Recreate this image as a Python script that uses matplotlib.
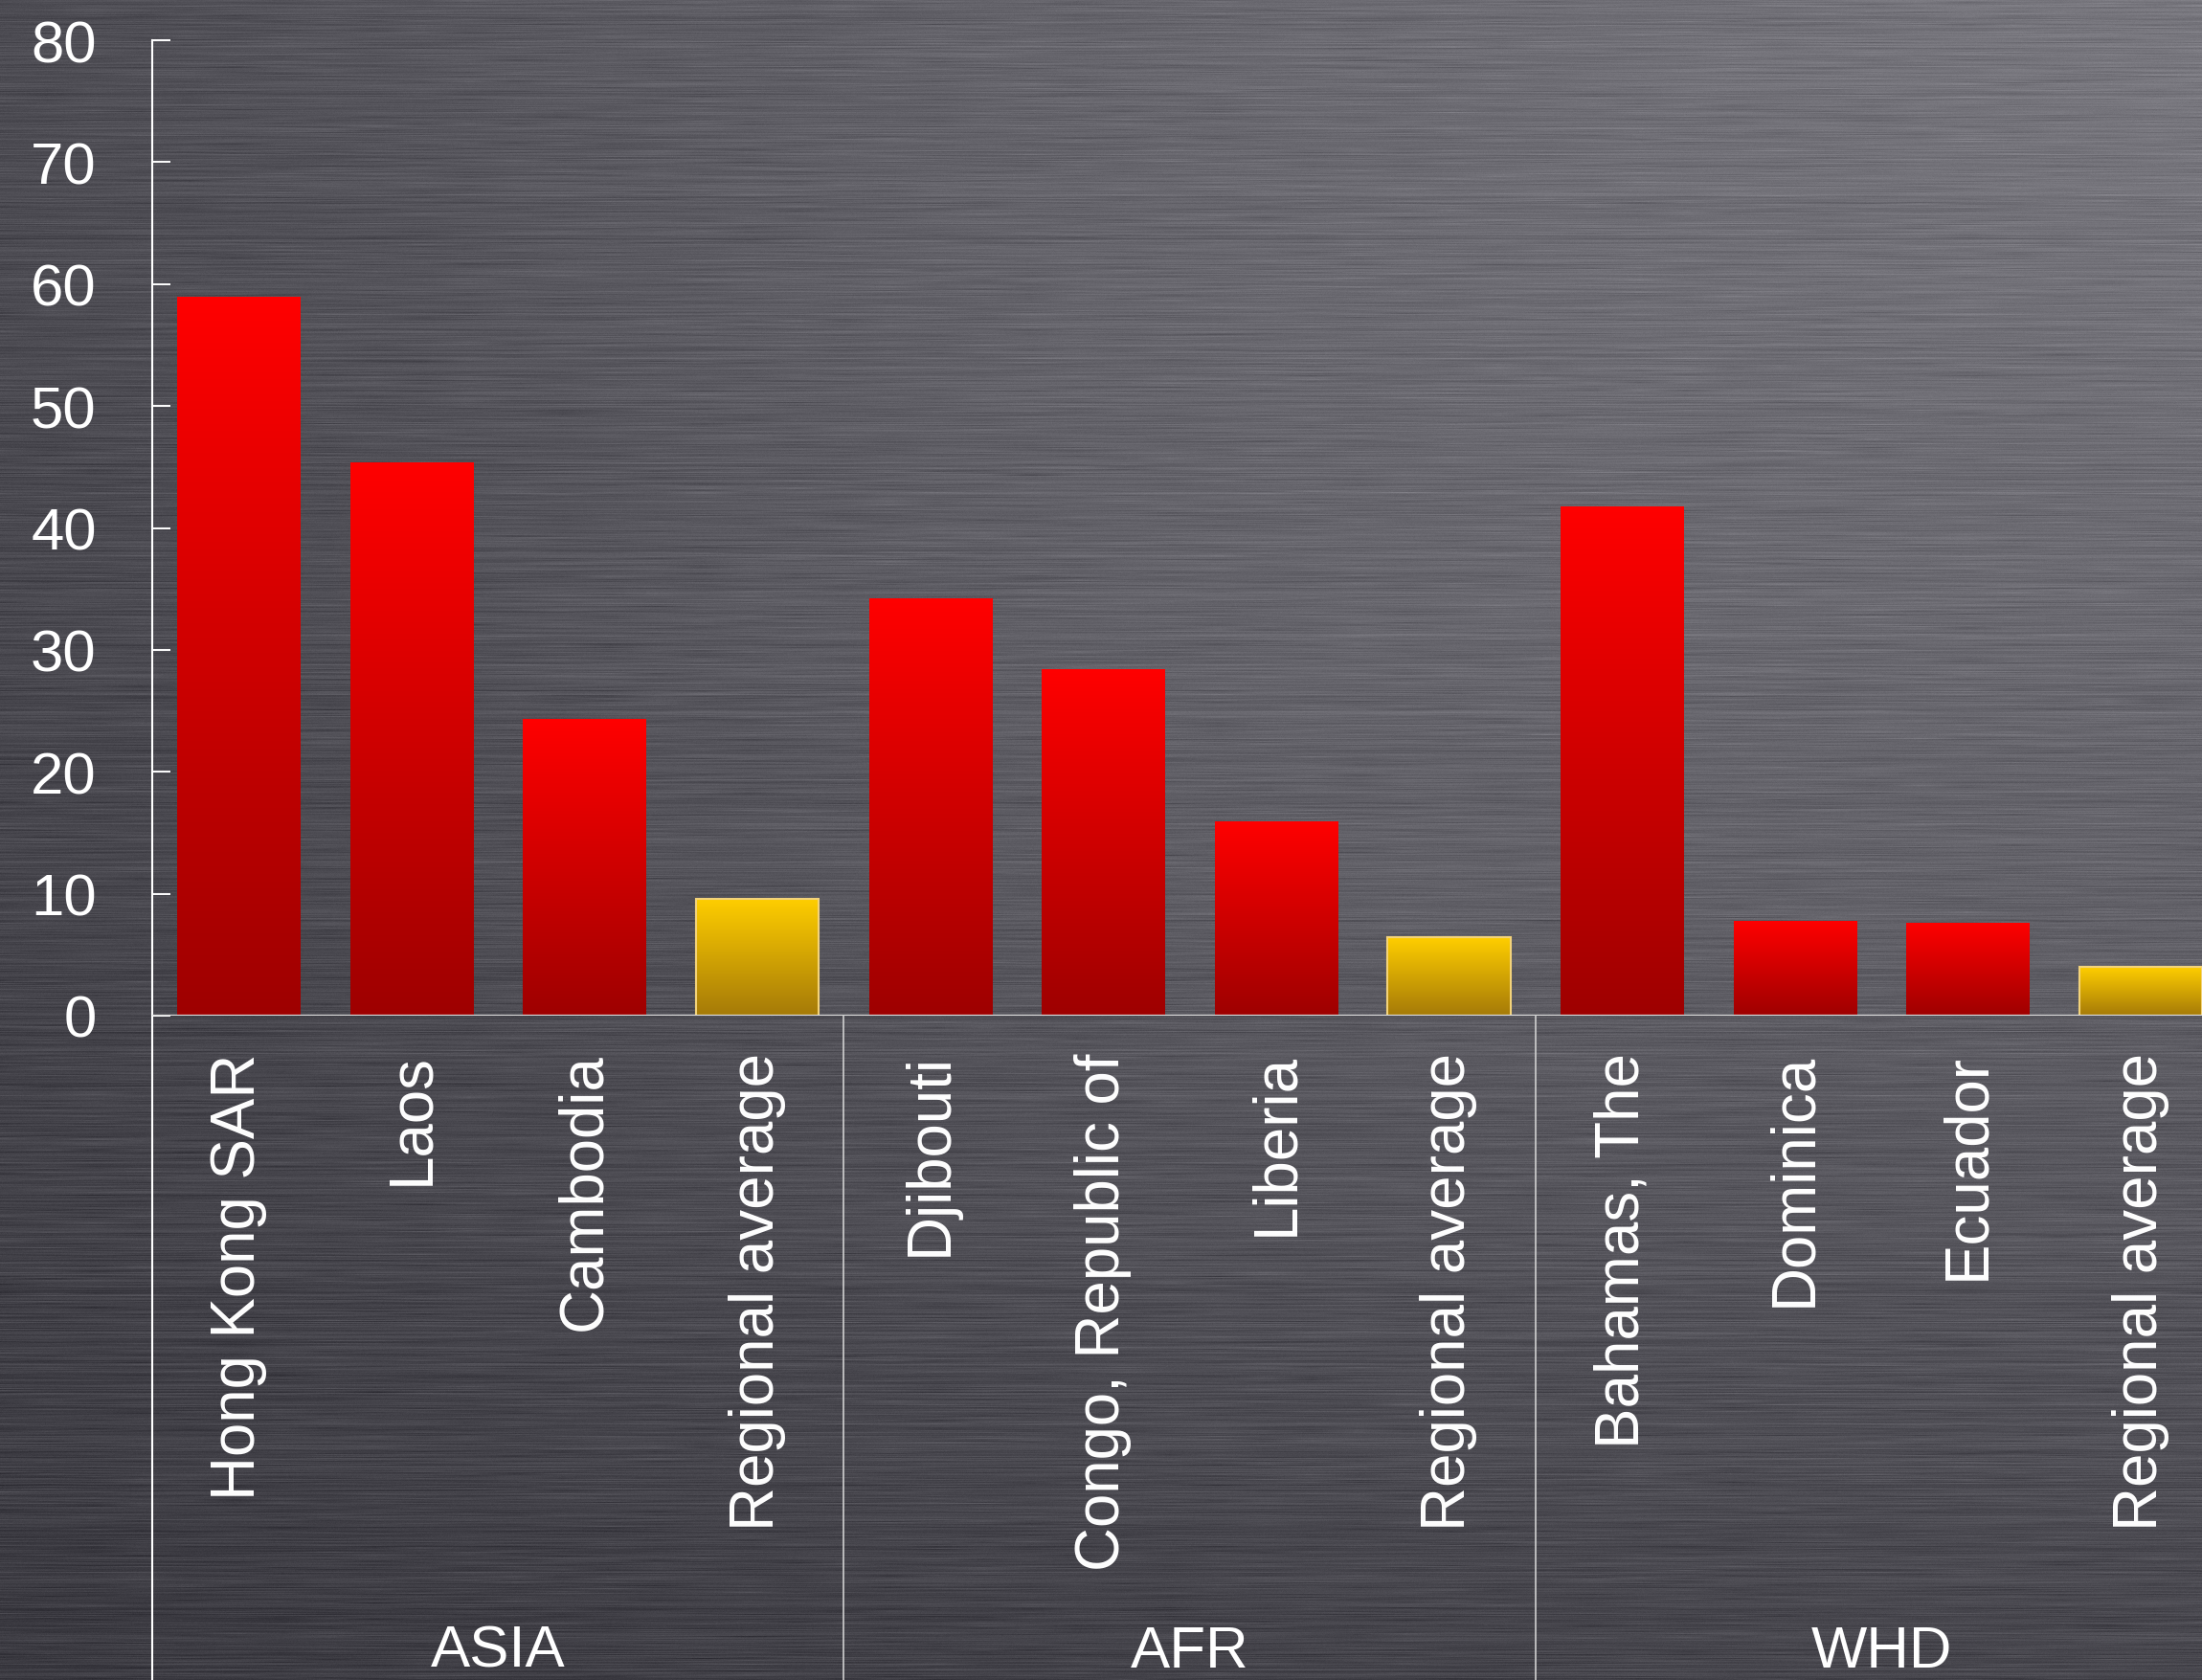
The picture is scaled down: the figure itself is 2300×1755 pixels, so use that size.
import numpy as np
import matplotlib
matplotlib.use('Agg')
import matplotlib.pyplot as plt
from matplotlib.transforms import blended_transform_factory

plt.rcParams['font.family'] = ['Liberation Sans', 'DejaVu Sans']

# data
countries = ['Hong Kong SAR', 'Laos', 'Cambodia', 'Regional average',
             'Djibouti', 'Congo, Republic of', 'Liberia', 'Regional average',
             'Bahamas, The', 'Dominica', 'Ecuador', 'Regional average']
values = [58.9, 45.3, 24.3, 9.6,
          34.2, 28.4, 15.9, 6.4,
          41.7, 7.7, 7.6, 4.0]
is_average = [False, False, False, True,
              False, False, False, True,
              False, False, False, True]
regions = ['ASIA', 'AFR', 'WHD']
region_size = 4
yticks = [0, 10, 20, 30, 40, 50, 60, 70, 80]

W, H = 2300, 1756
fig = plt.figure(figsize=(W / 100, H / 100), dpi=100)

# brushed metal background
yy, xx = np.mgrid[0:H, 0:W].astype(np.float32)
xn = xx / W
up = 1 - yy / H
v = 60 + 12 * xn + 18 * up + 30 * xn * up
v += 12 * np.exp(-((xn - 0.6) ** 2 + (up - 0.6) ** 2) / 0.18)
rng = np.random.default_rng(7)
v += rng.normal(0, 4, size=(H, 1)).astype(np.float32)
coarse = rng.normal(0, 5, size=(H, W // 50 + 2)).astype(np.float32)
xs = np.linspace(0, coarse.shape[1] - 1, W)
i0 = xs.astype(int)
fr = (xs - i0).astype(np.float32)
i1 = np.minimum(i0 + 1, coarse.shape[1] - 1)
v += coarse[:, i0] * (1 - fr) + coarse[:, i1] * fr
v += rng.normal(0, 1.5, size=(H, W)).astype(np.float32)
bg = np.clip(np.stack([v, v - 1, v + 6], axis=-1) / 255.0, 0, 1)

bg_ax = fig.add_axes([0, 0, 1, 1], zorder=0)
bg_ax.imshow(bg, aspect='auto', interpolation='nearest')
bg_ax.axis('off')

# main axes
left = 159 / W
bottom = (H - 1062) / H
height = (1062 - 43) / H
width = 12 * 180.6 / W
ax = fig.add_axes([left, bottom, width, height], zorder=1)
ax.set_facecolor('none')

x = np.arange(len(countries))
bar_w = 0.71
bars = ax.bar(x, values, width=bar_w, color='none', edgecolor='none', zorder=3)

def gradient(top, bot, n=256):
    t = np.linspace(0, 1, n)[:, None]
    top = np.array(top) / 255.0
    bot = np.array(bot) / 255.0
    return (top * (1 - t) + bot * t)[:, None, :]

red_grad = gradient((255, 0, 0), (158, 0, 0))
gold_grad = gradient((255, 206, 0), (165, 122, 8))

for b, avg in zip(bars, is_average):
    x0, w, h = b.get_x(), b.get_width(), b.get_height()
    ax.imshow(gold_grad if avg else red_grad, extent=[x0, x0 + w, 0, h],
              aspect='auto', origin='upper', zorder=2, interpolation='bilinear')
    if avg:
        b.set_edgecolor('#f3d37a')
        b.set_linewidth(1.5)

ax.set_xlim(-0.5, len(countries) - 0.5)
ax.set_ylim(0, 80)

for s in ax.spines.values():
    s.set_visible(False)

# axis lines
ax.plot([0, 0], [-0.75, 1], transform=ax.transAxes, clip_on=False,
        color='white', lw=1.5, zorder=4)
ax.axhline(0, color='#dcdcdc', lw=1.6, zorder=4)
trans = blended_transform_factory(ax.transData, ax.transAxes)
for k in range(1, len(regions)):
    xs_sep = k * region_size - 0.5
    ax.plot([xs_sep, xs_sep], [0, -0.75], transform=trans, clip_on=False,
            color='#d0d0d0', lw=1.2, zorder=4)

ax.set_yticks(yticks)
ax.tick_params(axis='y', direction='in', length=13.7, width=1.4, colors='white',
               labelsize=44.5, pad=42)
ax.set_xticks(x)
ax.set_xticklabels(countries, rotation=90, color='white', fontsize=45.8)
ax.tick_params(axis='x', length=0, pad=27.5)

ftrans = blended_transform_factory(ax.transData, fig.transFigure)
for k, reg in enumerate(regions):
    cx = k * region_size + (region_size - 1) / 2
    ax.text(cx, 0.017, reg, transform=ftrans, ha='center', va='center',
            color='white', fontsize=44.5)

fig.savefig('out.png', dpi=100)
